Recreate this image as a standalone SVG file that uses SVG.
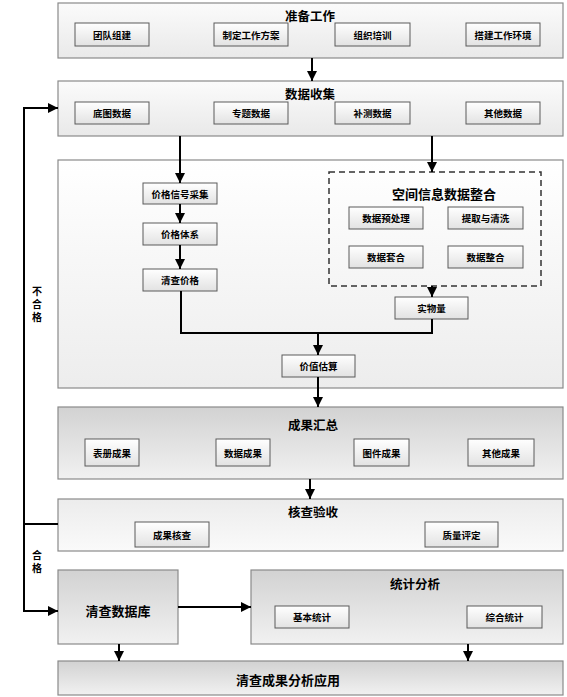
<svg xmlns="http://www.w3.org/2000/svg" width="567" height="697" viewBox="0 0 567 697">
<style>
text{font-family:"Noto Sans CJK SC","Noto Sans",sans-serif;font-weight:bold;fill:#000;text-anchor:middle;dominant-baseline:central}
.t{font-size:12.5px}
.s{font-size:9.5px}
.v{font-size:10px;writing-mode:vertical-rl;letter-spacing:3px}
.o{stroke:#8a8a8a;stroke-width:1.2}
.b{fill:url(#sg);stroke:#5a5a5a;stroke-width:1}
.c{fill:none;stroke:#000;stroke-width:2}
</style>
<defs>
<linearGradient id="lg" x1="0" y1="0" x2="0" y2="1"><stop offset="0" stop-color="#fbfbfb"/><stop offset="1" stop-color="#e9e9e9"/></linearGradient>
<linearGradient id="mg" x1="0" y1="0" x2="0" y2="1"><stop offset="0" stop-color="#ffffff"/><stop offset="1" stop-color="#ededed"/></linearGradient>
<linearGradient id="dg" x1="0" y1="0" x2="0" y2="1"><stop offset="0" stop-color="#d2d2d2"/><stop offset="1" stop-color="#f1f1f1"/></linearGradient>
<linearGradient id="kg" x1="0" y1="0" x2="0" y2="1"><stop offset="0" stop-color="#ececec"/><stop offset="1" stop-color="#fafafa"/></linearGradient>
<linearGradient id="sg" x1="0" y1="0" x2="0" y2="1"><stop offset="0" stop-color="#ffffff"/><stop offset="1" stop-color="#e2e2e2"/></linearGradient>
<marker id="ar" markerUnits="userSpaceOnUse" markerWidth="10" markerHeight="10" viewBox="0 0 10 10" refX="10" refY="5" orient="auto"><path d="M0,0 L10,5 L0,10 z" fill="#000"/></marker>
</defs>

<g id="prep">
<rect class="o" x="58" y="3" width="505" height="55" fill="url(#lg)"/>
<text class="t" x="310" y="15">准备工作</text>
<rect class="b" x="75" y="23" width="74" height="23"/><text class="s" x="112" y="34.5">团队组建</text>
<rect class="b" x="214" y="23" width="74" height="23"/><text class="s" x="251" y="34.5">制定工作方案</text>
<rect class="b" x="335" y="23" width="75" height="23"/><text class="s" x="372.5" y="34.5">组织培训</text>
<rect class="b" x="466" y="23" width="74" height="23"/><text class="s" x="503" y="34.5">搭建工作环境</text>
</g>

<g id="collect">
<rect class="o" x="58" y="81" width="505" height="55" fill="url(#lg)"/>
<text class="t" x="310" y="93">数据收集</text>
<rect class="b" x="75" y="102" width="74" height="22"/><text class="s" x="112" y="113">底图数据</text>
<rect class="b" x="214" y="102" width="74" height="22"/><text class="s" x="251" y="113">专题数据</text>
<rect class="b" x="335" y="102" width="75" height="22"/><text class="s" x="372.5" y="113">补测数据</text>
<rect class="b" x="466" y="102" width="74" height="22"/><text class="s" x="503" y="113">其他数据</text>
</g>

<g id="process">
<rect class="o" x="58" y="160" width="505" height="228" fill="url(#mg)"/>
</g>
<g id="price-collect"><rect class="b" x="143" y="183" width="74" height="21"/><text class="s" x="180" y="193.5">价格信号采集</text></g>
<g id="price-system"><rect class="b" x="143" y="223" width="74" height="22"/><text class="s" x="180" y="234">价格体系</text></g>
<g id="price-check"><rect class="b" x="143" y="269" width="74" height="22"/><text class="s" x="180" y="280">清查价格</text></g>
<g id="spatial">
<rect x="329" y="172" width="212" height="114" fill="none" stroke="#333" stroke-width="1.5" stroke-dasharray="6,4"/>
<text x="444" y="193" style="font-size:13px">空间信息数据整合</text>
<rect class="b" x="349" y="207" width="74" height="22"/><text class="s" x="386" y="218">数据预处理</text>
<rect class="b" x="448" y="207" width="75" height="22"/><text class="s" x="485.5" y="218">提取与清洗</text>
<rect class="b" x="349" y="246" width="74" height="22"/><text class="s" x="386" y="257">数据套合</text>
<rect class="b" x="448" y="246" width="75" height="22"/><text class="s" x="485.5" y="257">数据整合</text>
</g>
<g id="quantity"><rect class="b" x="395" y="297" width="73" height="22"/><text class="s" x="431.5" y="308">实物量</text></g>
<g id="value"><rect class="b" x="282" y="355" width="73" height="22"/><text class="s" x="318.5" y="366">价值估算</text></g>

<g id="summary">
<rect class="o" x="58" y="407" width="505" height="72" fill="url(#dg)"/>
<text class="t" x="313" y="424">成果汇总</text>
<rect class="b" x="85" y="439" width="54" height="27"/><text class="s" x="112" y="452.5">表册成果</text>
<rect class="b" x="216" y="439" width="54" height="27"/><text class="s" x="243" y="452.5">数据成果</text>
<rect class="b" x="354" y="439" width="55" height="27"/><text class="s" x="381.5" y="452.5">图件成果</text>
<rect class="b" x="468" y="439" width="66" height="27"/><text class="s" x="501" y="452.5">其他成果</text>
</g>

<g id="check">
<rect class="o" x="58" y="499" width="505" height="52" fill="url(#kg)"/>
<text class="t" x="313" y="511">核查验收</text>
<rect class="b" x="135" y="522" width="74" height="25"/><text class="s" x="172" y="534.5">成果核查</text>
<rect class="b" x="425" y="522" width="73" height="25"/><text class="s" x="461.5" y="534.5">质量评定</text>
</g>

<g id="database">
<rect class="o" x="58" y="570" width="120" height="74" fill="url(#dg)"/>
<text x="118" y="610" style="font-size:13px">清查数据库</text>
</g>

<g id="stats">
<rect class="o" x="251" y="570" width="312" height="74" fill="url(#dg)"/>
<text class="t" x="415" y="583">统计分析</text>
<rect class="b" x="275" y="606" width="74" height="22"/><text class="s" x="312" y="617">基本统计</text>
<rect class="b" x="467" y="606" width="75" height="22"/><text class="s" x="504.5" y="617">综合统计</text>
</g>

<g id="application">
<rect class="o" x="58" y="661" width="505" height="34" fill="url(#dg)"/>
<text x="288" y="679" style="font-size:13px">清查成果分析应用</text>
</g>

<g id="connectors">
<path class="c" d="M312,58 V81" marker-end="url(#ar)"/>
<path class="c" d="M58,524 H24 V108 H58" marker-end="url(#ar)"/>
<path class="c" d="M24,524 V611 H58" marker-end="url(#ar)"/>
<path class="c" d="M180,136 V183" marker-end="url(#ar)"/>
<path class="c" d="M432,136 V172" marker-end="url(#ar)"/>
<path class="c" d="M180,204 V223" marker-end="url(#ar)"/>
<path class="c" d="M180,245 V269" marker-end="url(#ar)"/>
<path class="c" d="M181,291 V333 H432 V319"/>
<path class="c" d="M432,286 V297" marker-end="url(#ar)"/>
<path class="c" d="M318,333 V355" marker-end="url(#ar)"/>
<path class="c" d="M318,377 V407" marker-end="url(#ar)"/>
<path class="c" d="M310,479 V499" marker-end="url(#ar)"/>
<path class="c" d="M178,607 H251" marker-end="url(#ar)"/>
<path class="c" d="M119,644 V661" marker-end="url(#ar)"/>
<path class="c" d="M468,644 V661" marker-end="url(#ar)"/>
<text class="v" x="37" y="306">不合格</text>
<text class="v" x="37" y="563">合格</text>
</g>
</svg>
